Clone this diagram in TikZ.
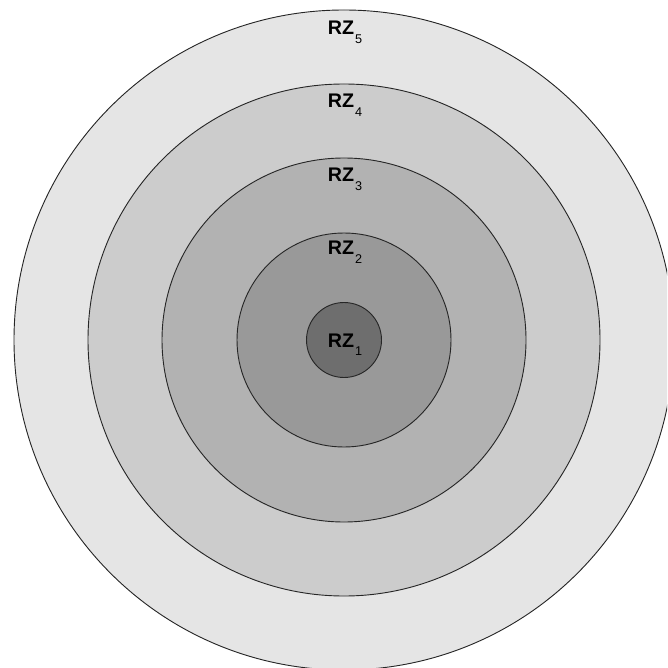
\documentclass[tikz,border=0pt]{standalone}
\usepackage{fontspec}
\setmainfont{Liberation Sans}
\usetikzlibrary{positioning}

\newcommand{\zonesub}[1]{\hspace{0.6pt}\raisebox{-6pt}{\fontsize{9}{10}\selectfont #1}}

\tikzset{
  zone/.style={draw=black!85, line width=0.65pt},
  zonelabel/.style={anchor=base, inner sep=0pt, font=\fontsize{14}{16}\selectfont}
}

\begin{document}
\begin{tikzpicture}[x=0.025cm, y=-0.025cm]
\useasboundingbox (0,0) rectangle (667,668);
\clip (0,0) rectangle (667,668);
% Draw zones, outer to inner
\foreach \r/\g in {330/10, 256/20, 182/30, 107/40, 37.5/57} {
    \draw[zone, fill=black!\g] (344,340) circle (\r);
}

% Zone labels
\foreach \i/\y in {5/35, 4/108, 3/182, 2/255, 1/347} {
    \node[zonelabel] (rz\i) at (345,\y) {\textbf{RZ}\zonesub{\i}};
}
\end{tikzpicture}
\end{document}
